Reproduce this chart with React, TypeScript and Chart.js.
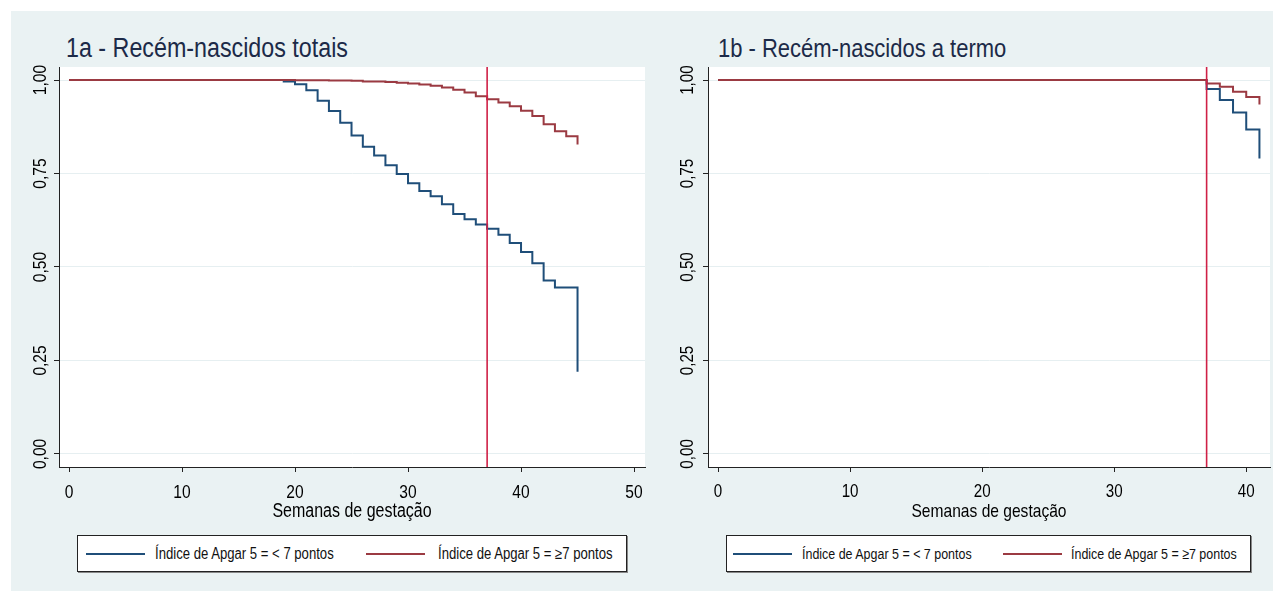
import React, { useEffect, useRef } from 'react';
import { Chart, registerables } from 'chart.js';

Chart.register(...registerables);

// ---------- data ----------
const yTicks = [0, 0.25, 0.5, 0.75, 1];
const xTicksA = [0, 10, 20, 30, 40, 50];
const xTicksB = [0, 10, 20, 30, 40];
const REF_WEEK = 37;

const titleA = '1a - Recém-nascidos totais';
const titleB = '1b - Recém-nascidos a termo';
const xTitle = 'Semanas de gestação';
const seriesLabels = ['Índice de Apgar 5 = < 7 pontos', 'Índice de Apgar 5 = ≥7 pontos'];

// 1a: all newborns
const weeksBlueA = [0, 19, 20, 21, 22, 23, 24, 25, 26, 27, 28, 29, 30, 31, 32, 33, 34, 35, 36, 37, 38, 39, 40, 41, 42, 43, 45];
const survBlueA = [1, 0.996, 0.989, 0.973, 0.945, 0.917, 0.886, 0.852, 0.822, 0.798, 0.772, 0.749, 0.724, 0.703, 0.689, 0.668, 0.642, 0.628, 0.614, 0.602, 0.586, 0.564, 0.54, 0.51, 0.464, 0.445, 0.22];
const weeksRedA = [0, 20, 23, 25, 26, 28, 29, 30, 31, 32, 33, 34, 35, 36, 37, 38, 39, 40, 41, 42, 43, 44, 45];
const survRedA = [1, 0.9995, 0.999, 0.998, 0.9964, 0.9947, 0.9929, 0.991, 0.988, 0.985, 0.98, 0.974, 0.967, 0.957, 0.949, 0.94, 0.93, 0.918, 0.904, 0.882, 0.863, 0.85, 0.828];

// 1b: term newborns
const weeksB = [0, 37, 38, 39, 40, 41];
const survBlueB = [1, 0.976, 0.947, 0.913, 0.868, 0.79];
const survRedB = [1, 0.991, 0.982, 0.969, 0.955, 0.935];

// ---------- styles ----------
const FONT = "'Liberation Sans', Arial, sans-serif";
const SX = 0.82; // horizontal condensing (narrow look)
const BG = '#EAF2F3';
const BLUE = '#1F4E79';
const RED = '#9B3A42';
const VLINE = '#CF2046';
const AXIS = '#222222';
const GRID = '#E6EFF1';

const plotBg = {
  id: 'plotBg',
  beforeDraw(chart: any) {
    const { ctx, chartArea } = chart;
    ctx.save();
    ctx.fillStyle = '#ffffff';
    ctx.fillRect(chartArea.left, chartArea.top, chartArea.right - chartArea.left, chartArea.bottom - chartArea.top);
    ctx.restore();
  },
};

const refLine = {
  id: 'refLine',
  afterDatasetsDraw(chart: any) {
    const { ctx, chartArea, scales } = chart;
    const x = scales.x.getPixelForValue(REF_WEEK);
    ctx.save();
    ctx.strokeStyle = VLINE;
    ctx.lineWidth = 1.6;
    ctx.beginPath();
    ctx.moveTo(x, chartArea.top);
    ctx.lineTo(x, chartArea.bottom);
    ctx.stroke();
    ctx.restore();
  },
};

type Spec = {
  width: number;
  height: number;
  yWidth: number;
  yPad: number;
  xMin: number;
  xMax: number;
  xTicks: number[];
  tickSize: number;
  titleSize: number;
  blueW: number[];
  blue: number[];
  redW: number[];
  red: number[];
};

function pts(w: number[], v: number[]) {
  return w.map((x, i) => ({ x, y: v[i] }));
}

function condense(canvas: HTMLCanvasElement) {
  const ctx: any = canvas.getContext('2d');
  if (!ctx || ctx.__condensed) return;
  const orig = ctx.fillText;
  ctx.fillText = function (t: string, x: number, y: number, mw?: number) {
    this.save();
    this.translate(x, y);
    this.scale(SX, 1);
    if (mw === undefined || mw === null) orig.call(this, t, 0, 0);
    else orig.call(this, t, 0, 0, mw / SX);
    this.restore();
  };
  ctx.__condensed = true;
}

function ChartPanel({ spec, left, top }: { spec: Spec; left: number; top: number }) {
  const ref = useRef<HTMLCanvasElement | null>(null);
  useEffect(() => {
    if (!ref.current) return;
    condense(ref.current);
    const chart = new Chart(ref.current, {
      type: 'scatter',
      data: {
        datasets: [
          {
            label: seriesLabels[1],
            data: pts(spec.redW, spec.red),
            showLine: true,
            stepped: true,
            borderColor: RED,
            borderWidth: 2,
            pointRadius: 0,
            fill: false,
          },
          {
            label: seriesLabels[0],
            data: pts(spec.blueW, spec.blue),
            showLine: true,
            stepped: true,
            borderColor: BLUE,
            borderWidth: 2,
            pointRadius: 0,
            fill: false,
          },
        ],
      } as any,
      options: {
        animation: false,
        responsive: false,
        maintainAspectRatio: false,
        layout: { padding: { top: 7, right: 3, left: 0, bottom: 0 } },
        plugins: { legend: { display: false }, tooltip: { enabled: false }, title: { display: false } },
        scales: {
          x: {
            type: 'linear',
            min: spec.xMin,
            max: spec.xMax,
            afterBuildTicks: (s: any) => {
              s.ticks = spec.xTicks.map((v) => ({ value: v }));
            },
            afterFit: (s: any) => {
              s.height = 63;
              s.paddingLeft = 0;
              s.paddingRight = 0;
            },
            grid: { drawOnChartArea: false, tickLength: 5, tickColor: AXIS },
            border: { color: AXIS, width: 1 },
            ticks: {
              font: { family: FONT, size: spec.tickSize },
              color: '#000',
              padding: 9,
              maxRotation: 0,
              autoSkip: false,
              callback: (v: any) => String(v),
            },
            title: {
              display: true,
              text: xTitle,
              font: { family: FONT, size: spec.titleSize },
              color: '#000',
              padding: { top: 0, bottom: 7 },
            },
          },
          y: {
            type: 'linear',
            min: -0.035,
            max: 1.035,
            afterBuildTicks: (s: any) => {
              s.ticks = yTicks.map((v) => ({ value: v }));
            },
            afterFit: (s: any) => {
              s.width = spec.yWidth;
              s.paddingTop = 0;
              s.paddingBottom = 0;
            },
            grid: { color: GRID, lineWidth: 1, tickLength: 5, tickColor: AXIS },
            border: { color: AXIS, width: 1 },
            ticks: {
              font: { family: FONT, size: spec.tickSize },
              color: '#000',
              padding: spec.yPad,
              minRotation: 90,
              maxRotation: 90,
              crossAlign: 'center',
              autoSkip: false,
              callback: (v: any) => Number(v).toFixed(2).replace('.', ','),
            },
          },
        },
      } as any,
      plugins: [plotBg, refLine],
    });
    return () => chart.destroy();
  }, [spec]);
  return (
    <canvas
      ref={ref}
      width={spec.width}
      height={spec.height}
      style={{ position: 'absolute', left, top, width: spec.width, height: spec.height }}
    />
  );
}

function Legend({ left, top, width, lineA, textA, lineB, textB, size }: any) {
  const line = (x: number, c: string) => (
    <div style={{ position: 'absolute', left: x, top: 17, width: 59, height: 2, background: c }} />
  );
  const text = (x: number, s: string) => (
    <div
      style={{
        position: 'absolute',
        left: x,
        top: 8,
        lineHeight: '20px',
        fontFamily: FONT,
        fontSize: size,
        color: '#111',
        whiteSpace: 'nowrap',
        transform: `scaleX(${SX})`,
        transformOrigin: 'left center',
      }}
    >
      {s}
    </div>
  );
  return (
    <div
      style={{
        position: 'absolute',
        left,
        top,
        width,
        height: 37,
        background: '#fff',
        border: '1px solid #222',
        boxShadow: '1px 1px 0 #888',
        boxSizing: 'border-box',
      }}
    >
      {line(lineA, BLUE)}
      {text(textA, seriesLabels[0])}
      {line(lineB, RED)}
      {text(textB, seriesLabels[1])}
    </div>
  );
}

const specA: Spec = {
  width: 637,
  height: 470,
  yWidth: 48,
  yPad: -5,
  xMin: -0.885,
  xMax: 50.97,
  xTicks: xTicksA,
  tickSize: 19,
  titleSize: 19.5,
  blueW: weeksBlueA,
  blue: survBlueA,
  redW: weeksRedA,
  red: survRedA,
};

const specB: Spec = {
  width: 625,
  height: 470,
  yWidth: 60,
  yPad: -3,
  xMin: -0.76,
  xMax: 41.8,
  xTicks: xTicksB,
  tickSize: 18.5,
  titleSize: 19,
  blueW: weeksB,
  blue: survBlueB,
  redW: weeksB,
  red: survRedB,
};

export default function App() {
  const titleStyle: React.CSSProperties = {
    position: 'absolute',
    top: 33,
    fontFamily: FONT,
    lineHeight: '30px',
    color: '#1c2a48',
    whiteSpace: 'nowrap',
    transform: 'scaleX(0.862)',
    transformOrigin: 'left center',
  };
  return (
    <div style={{ position: 'absolute', left: 0, top: 0, width: 1273, height: 591, background: '#fff', overflow: 'hidden' }}>
      <div style={{ position: 'absolute', left: 11, top: 11, width: 1262, height: 580, background: BG }} />
      <div style={{ ...titleStyle, left: 66, fontSize: 27 }}>{titleA}</div>
      <div style={{ ...titleStyle, left: 718, fontSize: 25.5 }}>{titleB}</div>
      <ChartPanel spec={specA} left={11} top={60} />
      <ChartPanel spec={specB} left={648} top={60} />
      <Legend left={77} top={535} width={550} lineA={8} textA={77} lineB={288} textB={360} size={16} />
      <Legend left={726} top={535} width={525} lineA={6} textA={75} lineB={276} textB={344} size={15.2} />
    </div>
  );
}
